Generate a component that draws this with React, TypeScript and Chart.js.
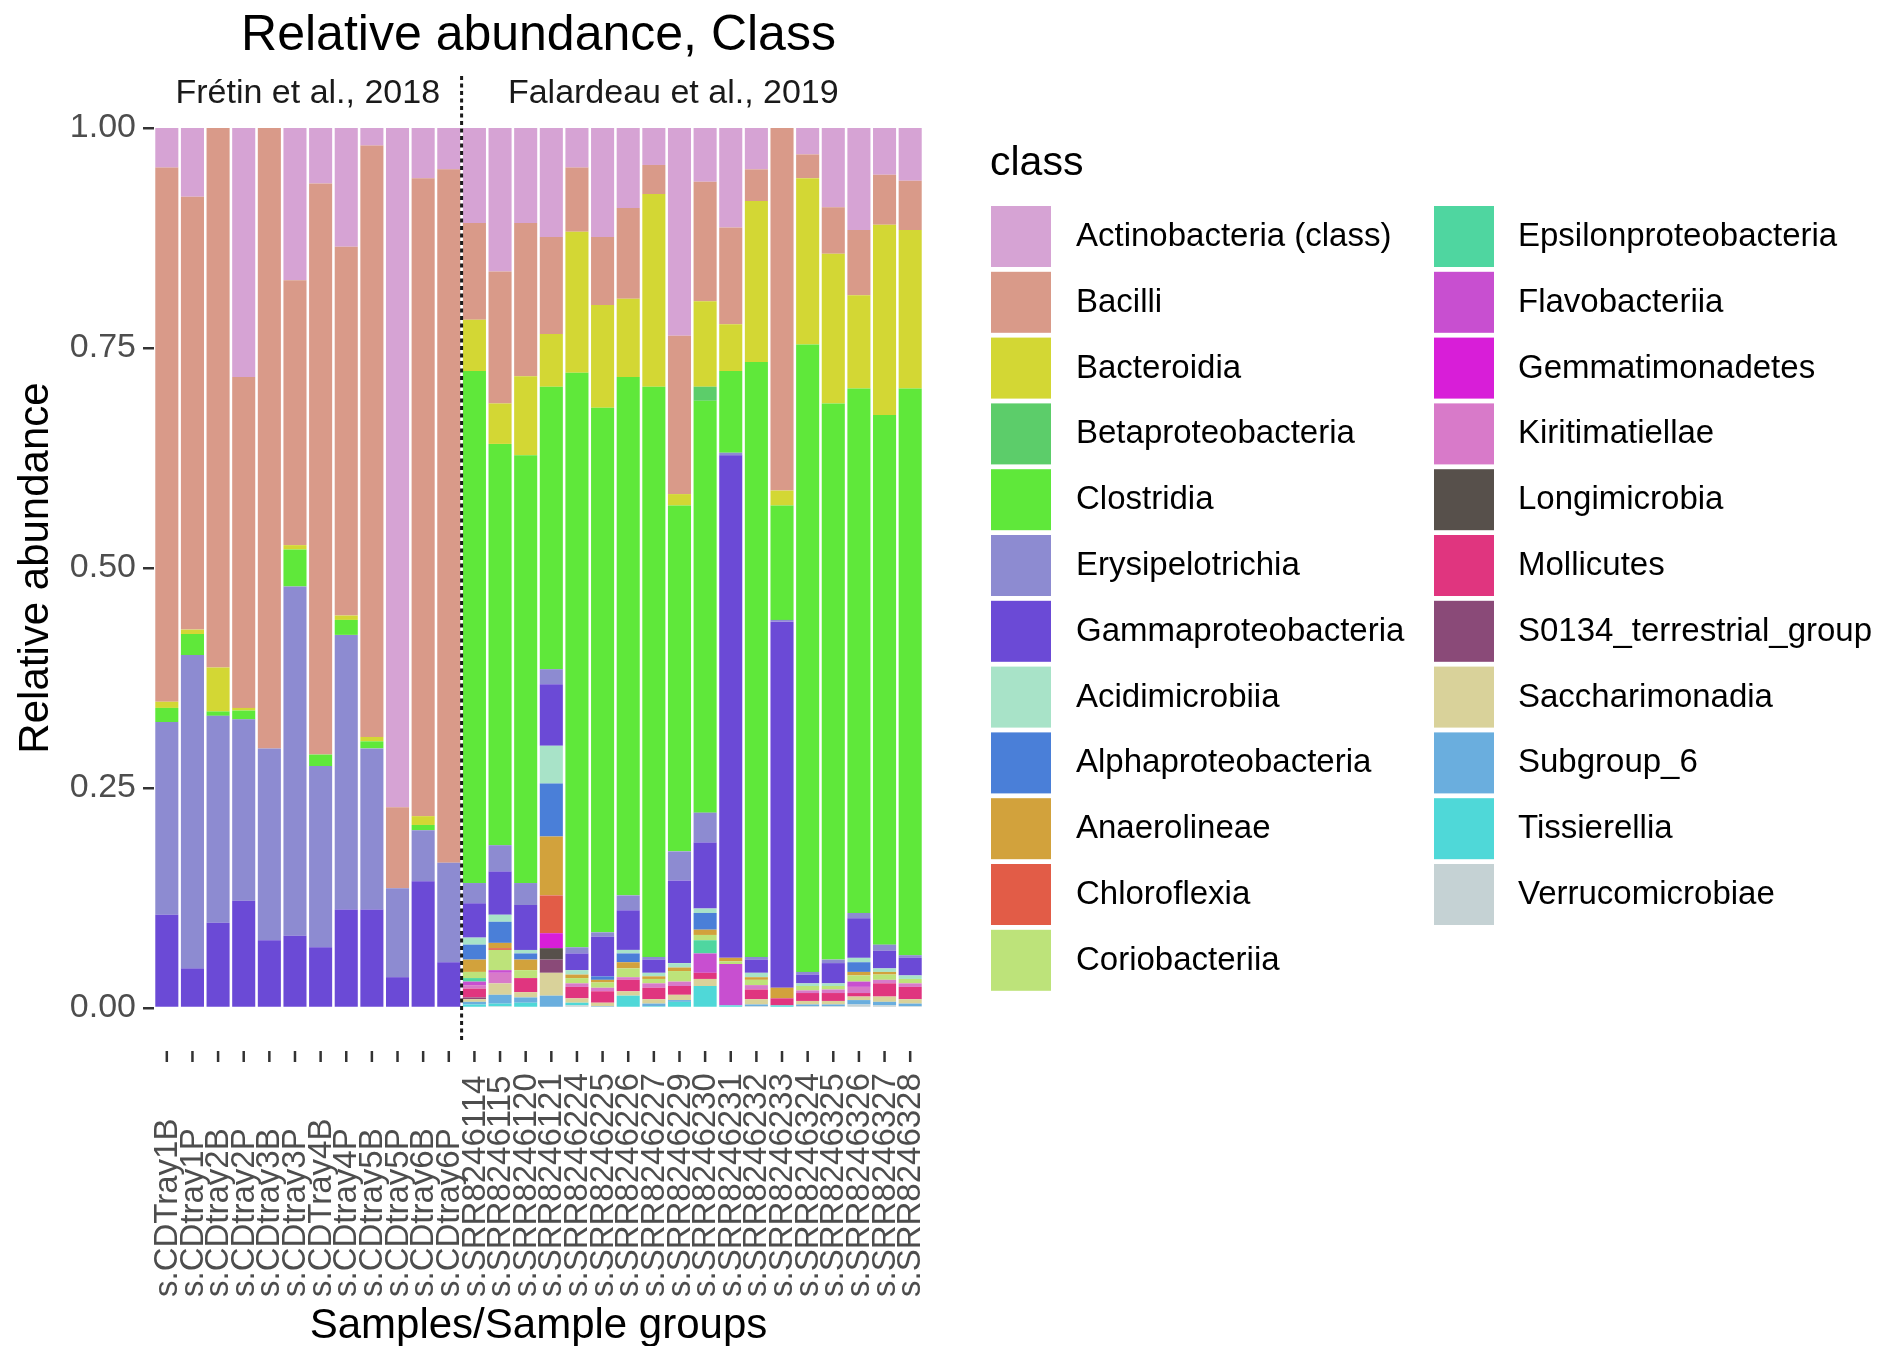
import React, { useEffect, useRef } from "react";
import { Chart, registerables } from "chart.js";

Chart.register(...registerables);

// ---- data -----------------------------------------------------------------

const sampleLabels = [
  "s.CDTray1B", "s.CDtray1P", "s.CDtray2B", "s.CDtray2P", "s.CDtray3B", "s.CDtray3P",
  "s.CDTray4B", "s.CDtray4P", "s.CDtray5B", "s.CDtray5P", "s.CDtray6B", "s.CDtray6P",
  "s.SRR8246114", "s.SRR8246115", "s.SRR8246120", "s.SRR8246121", "s.SRR8246224", "s.SRR8246225",
  "s.SRR8246226", "s.SRR8246227", "s.SRR8246229", "s.SRR8246230", "s.SRR8246231", "s.SRR8246232",
  "s.SRR8246233", "s.SRR8246324", "s.SRR8246325", "s.SRR8246326", "s.SRR8246327", "s.SRR8246328",
];

const studyLabels = ["Frétin et al., 2018", "Falardeau et al., 2019"];
const studySizes = [12, 18];

const yTicks = [0, 0.25, 0.5, 0.75, 1];

const classNames = [
  "Actinobacteria (class)", "Bacilli", "Bacteroidia", "Betaproteobacteria", "Clostridia",
  "Erysipelotrichia", "Gammaproteobacteria", "Acidimicrobiia", "Alphaproteobacteria",
  "Anaerolineae", "Chloroflexia", "Coriobacteriia", "Epsilonproteobacteria", "Flavobacteriia",
  "Gemmatimonadetes", "Kiritimatiellae", "Longimicrobia", "Mollicutes",
  "S0134_terrestrial_group", "Saccharimonadia", "Subgroup_6", "Tissierellia", "Verrucomicrobiae",
];

const classColors = [
  "#d6a3d4", "#d99a89", "#d3d734", "#5ccd6a", "#5fe83a",
  "#8d8bd1", "#6b4ad6", "#a8e3c8", "#4a7fd8",
  "#d2a23c", "#e25c47", "#bde37a", "#4fd6a0", "#c84fd0",
  "#d81ed8", "#d87ac9", "#57504b", "#e0357f",
  "#8a4a78", "#d9d29a", "#6aaede", "#4fd8d8", "#c5d2d4",
];

// relative abundance per class, one value per sample (same order as sampleLabels)
const actinobacteria = [0.045, 0.078, 0, 0.283, 0, 0.173, 0.063, 0.135, 0.02, 0.772, 0.057, 0.047,
  0.108, 0.163, 0.108, 0.124, 0.045, 0.124, 0.091, 0.042, 0.236, 0.061, 0.113, 0.047, 0, 0.03, 0.09, 0.116, 0.053, 0.06];
const bacilli = [0.607, 0.492, 0.613, 0.376, 0.705, 0.301, 0.649, 0.419, 0.672, 0.092, 0.725, 0.788,
  0.11, 0.15, 0.174, 0.11, 0.073, 0.077, 0.103, 0.033, 0.18, 0.136, 0.11, 0.036, 0.412, 0.027, 0.053, 0.074, 0.057, 0.056];
const bacteroidia = [0.007, 0.005, 0.05, 0.003, 0, 0.005, 0, 0.005, 0.005, 0, 0.01, 0,
  0.058, 0.046, 0.09, 0.06, 0.16, 0.117, 0.089, 0.219, 0.013, 0.097, 0.053, 0.183, 0.017, 0.189, 0.17, 0.106, 0.216, 0.18];
const betaproteobacteria = [0, 0, 0, 0, 0, 0, 0, 0, 0, 0, 0, 0,
  0, 0, 0, 0, 0, 0, 0, 0, 0, 0.016, 0, 0, 0, 0, 0, 0, 0, 0];
const clostridia = [0.016, 0.024, 0.005, 0.01, 0, 0.042, 0.013, 0.017, 0.008, 0, 0.006, 0,
  0.582, 0.456, 0.486, 0.321, 0.653, 0.596, 0.589, 0.648, 0.393, 0.468, 0.093, 0.676, 0.13, 0.713, 0.632, 0.596, 0.602, 0.644];
const erysipelotrichia = [0.219, 0.356, 0.235, 0.206, 0.218, 0.397, 0.206, 0.312, 0.183, 0.101, 0.058, 0.113,
  0.023, 0.03, 0.025, 0.017, 0.007, 0.005, 0.017, 0.003, 0.033, 0.034, 0.003, 0.003, 0.002, 0.003, 0.004, 0.006, 0.007, 0.003];
const gammaproteobacteria = [0.106, 0.045, 0.097, 0.122, 0.077, 0.082, 0.069, 0.112, 0.112, 0.035, 0.144, 0.052,
  0.039, 0.049, 0.051, 0.07, 0.019, 0.045, 0.045, 0.015, 0.094, 0.075, 0.571, 0.015, 0.416, 0.01, 0.023, 0.045, 0.02, 0.02];
const acidimicrobiia = [0, 0, 0, 0, 0, 0, 0, 0, 0, 0, 0, 0,
  0.008, 0.008, 0.004, 0.043, 0.005, 0, 0.004, 0.004, 0.005, 0.005, 0, 0.005, 0, 0.003, 0.003, 0.005, 0.004, 0.004];
const alphaproteobacteria = [0, 0, 0, 0, 0, 0, 0, 0, 0, 0, 0, 0,
  0.017, 0.024, 0.007, 0.06, 0, 0.004, 0.01, 0, 0, 0.019, 0, 0, 0, 0, 0, 0.011, 0, 0];
const anaerolineae = [0, 0, 0, 0, 0, 0, 0, 0, 0, 0, 0, 0,
  0.014, 0.006, 0.012, 0.067, 0.004, 0.003, 0.007, 0.003, 0.004, 0.006, 0.004, 0.003, 0.012, 0, 0, 0.004, 0.003, 0];
const chloroflexia = [0, 0, 0, 0, 0, 0, 0, 0, 0, 0, 0, 0,
  0, 0.002, 0, 0.043, 0, 0, 0, 0, 0, 0, 0, 0, 0, 0, 0, 0, 0, 0];
const coriobacteriia = [0, 0, 0, 0, 0, 0, 0, 0, 0, 0, 0, 0,
  0.007, 0.023, 0.009, 0, 0.006, 0.006, 0.01, 0.005, 0.012, 0.006, 0.003, 0.006, 0, 0.005, 0.004, 0.007, 0.006, 0.005];
const epsilonproteobacteria = [0, 0, 0, 0, 0, 0, 0, 0, 0, 0, 0, 0,
  0.004, 0, 0, 0, 0, 0, 0, 0, 0, 0.015, 0, 0, 0, 0, 0, 0, 0, 0];
const flavobacteriia = [0, 0, 0, 0, 0, 0, 0, 0, 0, 0, 0, 0,
  0.004, 0.003, 0, 0, 0, 0, 0, 0, 0, 0.022, 0.047, 0, 0, 0, 0, 0.006, 0, 0];
const gemmatimonadetes = [0, 0, 0, 0, 0, 0, 0, 0, 0, 0, 0, 0,
  0, 0, 0, 0.017, 0, 0, 0, 0, 0, 0, 0, 0, 0, 0, 0, 0, 0, 0];
const kiritimatiellae = [0, 0, 0, 0, 0, 0, 0, 0, 0, 0, 0, 0,
  0.004, 0.012, 0, 0, 0.004, 0.004, 0.003, 0.005, 0.005, 0, 0, 0.005, 0, 0.003, 0.004, 0.007, 0.004, 0.004];
const longimicrobia = [0, 0, 0, 0, 0, 0, 0, 0, 0, 0, 0, 0,
  0, 0, 0, 0.013, 0, 0, 0, 0, 0, 0, 0, 0, 0, 0, 0, 0, 0, 0];
const mollicutes = [0, 0, 0, 0, 0, 0, 0, 0, 0, 0, 0, 0,
  0.01, 0, 0.016, 0, 0.013, 0.013, 0.013, 0.013, 0.01, 0.007, 0, 0.011, 0.008, 0.009, 0.009, 0.004, 0.015, 0.014];
const s0134TerrestrialGroup = [0, 0, 0, 0, 0, 0, 0, 0, 0, 0, 0, 0,
  0.002, 0, 0, 0.015, 0, 0, 0, 0, 0, 0, 0, 0, 0, 0, 0, 0, 0, 0];
const saccharimonadia = [0, 0, 0, 0, 0, 0, 0, 0, 0, 0, 0, 0,
  0.003, 0.013, 0.006, 0.026, 0.005, 0.004, 0.005, 0.005, 0.006, 0.008, 0, 0.006, 0, 0.004, 0.004, 0.004, 0.006, 0.005];
const subgroup6 = [0, 0, 0, 0, 0, 0, 0, 0, 0, 0, 0, 0,
  0.003, 0.01, 0.006, 0.014, 0, 0.002, 0, 0.003, 0.002, 0, 0, 0.002, 0, 0.002, 0.002, 0.005, 0.004, 0.003];
const tissierellia = [0, 0, 0, 0, 0, 0, 0, 0, 0, 0, 0, 0,
  0.004, 0.003, 0.006, 0, 0.003, 0, 0.014, 0.002, 0.007, 0.025, 0.003, 0, 0.003, 0, 0, 0, 0, 0];
const verrucomicrobiae = [0, 0, 0, 0, 0, 0, 0, 0, 0, 0, 0, 0,
  0, 0.002, 0, 0, 0.003, 0, 0, 0, 0, 0, 0, 0.002, 0, 0.002, 0.002, 0.004, 0.003, 0.002];

// legend order (top of each stack first)
const classValues = [
  actinobacteria, bacilli, bacteroidia, betaproteobacteria, clostridia,
  erysipelotrichia, gammaproteobacteria, acidimicrobiia, alphaproteobacteria,
  anaerolineae, chloroflexia, coriobacteriia, epsilonproteobacteria, flavobacteriia,
  gemmatimonadetes, kiritimatiellae, longimicrobia, mollicutes,
  s0134TerrestrialGroup, saccharimonadia, subgroup6, tissierellia, verrucomicrobiae,
];

// ---- layout ---------------------------------------------------------------

const W = 1881;
const H = 1346;
const FONT = '"Liberation Sans", Arial, Helvetica, sans-serif';
const AREA = { left: 154, top: 128, right: 923, bottom: 1008 };

const decorations = {
  id: "decorations",
  afterDraw(chart: any) {
    const { ctx, chartArea } = chart;
    const xs = chart.scales.x;
    const cx = (chartArea.left + chartArea.right) / 2;
    ctx.save();

    // title
    ctx.fillStyle = "#000";
    ctx.textAlign = "center";
    ctx.textBaseline = "middle";
    ctx.font = `50px ${FONT}`;
    ctx.fillText("Relative abundance, Class", cx, 36);

    // facet strips
    ctx.font = `34px ${FONT}`;
    ctx.fillStyle = "#1a1a1a";
    const stripShift = [0, -19];
    let start = 0;
    studySizes.forEach((n, i) => {
      const mid = xs.getPixelForValue(start + (n - 1) / 2) + stripShift[i];
      ctx.fillText(studyLabels[i], mid, 94);
      start += n;
    });

    // dotted separator between the two studies
    const sepX = (xs.getPixelForValue(studySizes[0] - 1) + xs.getPixelForValue(studySizes[0])) / 2;
    ctx.strokeStyle = "#1a1a1a";
    ctx.lineWidth = 3;
    ctx.setLineDash([4, 3.5]);
    ctx.beginPath();
    ctx.moveTo(sepX, 76);
    ctx.lineTo(sepX, 1042);
    ctx.stroke();
    ctx.setLineDash([]);

    // x tick marks and labels
    ctx.strokeStyle = "#333";
    ctx.lineWidth = 2.5;
    sampleLabels.forEach((lab, i) => {
      const px = xs.getPixelForValue(i);
      ctx.beginPath();
      ctx.moveTo(px, 1051);
      ctx.lineTo(px, 1062);
      ctx.stroke();
    });
    ctx.fillStyle = "#4d4d4d";
    ctx.font = `33px ${FONT}`;
    ctx.textAlign = "left";
    ctx.textBaseline = "middle";
    sampleLabels.forEach((lab, i) => {
      const px = xs.getPixelForValue(i);
      ctx.save();
      ctx.translate(px, 1297);
      ctx.rotate(-Math.PI / 2);
      ctx.fillText(lab, 0, 1);
      ctx.restore();
    });

    // x axis title
    ctx.fillStyle = "#000";
    ctx.textAlign = "center";
    ctx.font = `42px ${FONT}`;
    ctx.fillText("Samples/Sample groups", cx, 1326);

    // legend
    ctx.textAlign = "left";
    ctx.font = `41px ${FONT}`;
    ctx.fillText("class", 990, 164);
    ctx.font = `33px ${FONT}`;
    const rows = 12;
    classNames.forEach((name, i) => {
      const col = Math.floor(i / rows);
      const row = i % rows;
      const keyX = col === 0 ? 991 : 1434;
      const textX = col === 0 ? 1076 : 1518;
      const cy = 236 + row * 65.8;
      ctx.fillStyle = classColors[i];
      ctx.fillRect(keyX, cy - 30, 60, 61);
      ctx.fillStyle = "#000";
      ctx.fillText(name, textX, cy + 1);
    });

    ctx.restore();
  },
};

export default function App() {
  const canvasRef = useRef<HTMLCanvasElement | null>(null);

  useEffect(() => {
    const canvas = canvasRef.current;
    if (!canvas) return;

    // stacked bottom-up: last legend entry first
    const datasets = classNames
      .map((name, i) => ({
        label: name,
        data: classValues[i],
        backgroundColor: classColors[i],
        borderWidth: 0,
        barPercentage: 0.9,
        categoryPercentage: 1,
      }))
      .reverse();

    const chart = new Chart(canvas, {
      type: "bar",
      data: { labels: sampleLabels, datasets },
      options: {
        responsive: false,
        animation: false,
        devicePixelRatio: 1,
        events: [],
        layout: {
          padding: { left: AREA.left - 154, top: AREA.top, right: W - AREA.right, bottom: 0 },
        },
        plugins: {
          legend: { display: false },
          tooltip: { enabled: false },
          title: { display: false },
        },
        scales: {
          x: {
            stacked: true,
            offset: true,
            ticks: { display: false },
            grid: { display: false },
            border: { display: false },
            afterFit: (scale: any) => {
              scale.height = H - AREA.bottom;
            },
          },
          y: {
            stacked: true,
            min: 0,
            max: 1,
            afterBuildTicks: (scale: any) => {
              scale.ticks = yTicks.map((v) => ({ value: v }));
            },
            afterFit: (scale: any) => {
              scale.width = AREA.left;
            },
            ticks: {
              color: "#4d4d4d",
              font: { family: FONT, size: 34 },
              padding: 7,
              callback: (v: any) => Number(v).toFixed(2),
            },
            grid: {
              display: true,
              drawOnChartArea: false,
              drawTicks: true,
              tickLength: 11,
              color: "#333",
              lineWidth: 2.5,
            },
            border: { display: false },
            title: {
              display: true,
              text: "Relative abundance",
              color: "#000",
              font: { family: FONT, size: 42 },
              padding: { top: 11, bottom: 0 },
            },
          },
        },
      },
      plugins: [decorations],
    });

    return () => chart.destroy();
  }, []);

  return (
    <div style={{ position: "absolute", left: 0, top: 0, width: W, height: H, background: "#fff" }}>
      <canvas ref={canvasRef} width={W} height={H} style={{ width: W, height: H, display: "block" }} />
    </div>
  );
}
